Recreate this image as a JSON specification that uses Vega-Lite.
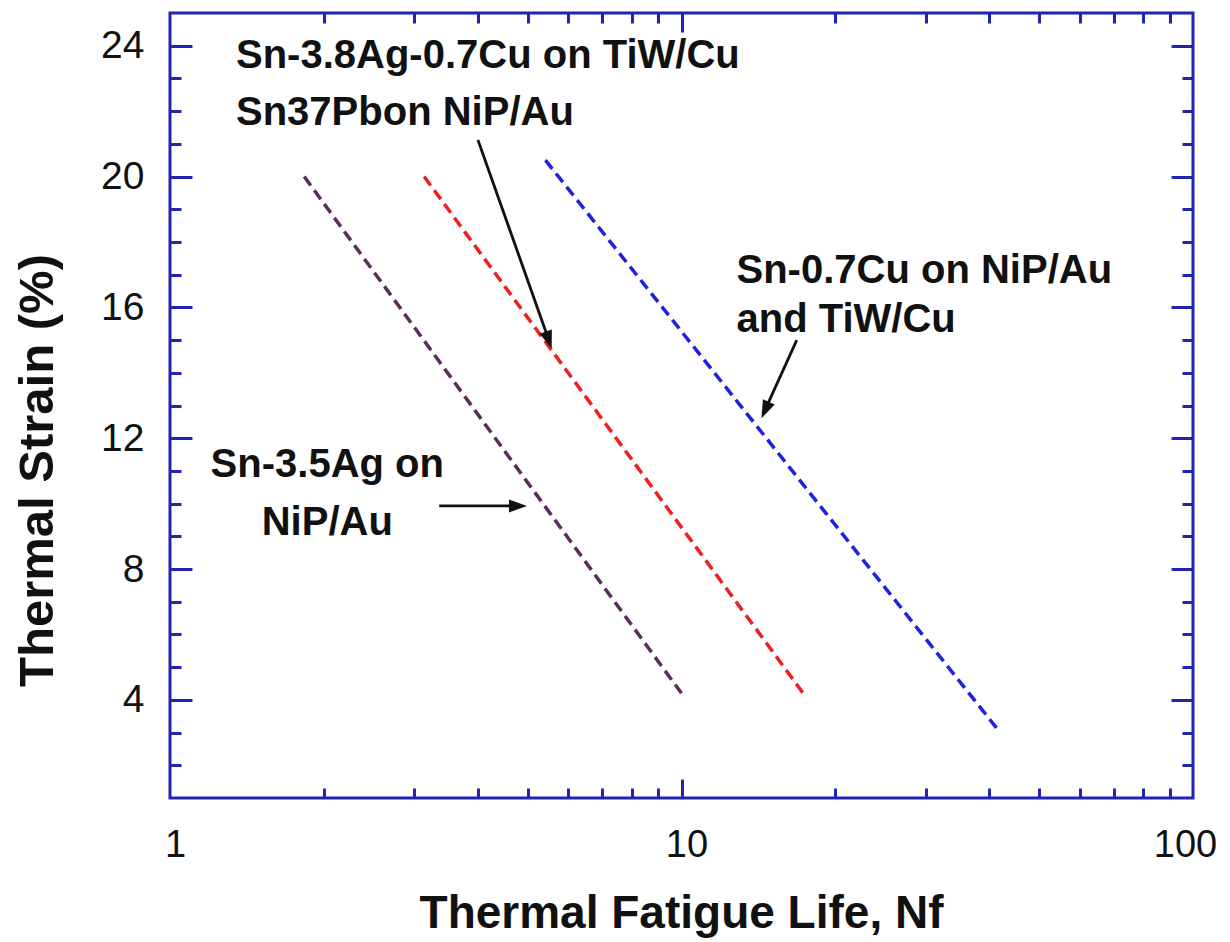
{
  "$schema": "https://vega.github.io/schema/vega-lite/v6.json",
  "width": 1023,
  "height": 785,
  "autosize": {"type": "none"},
  "padding": {"left": 170, "top": 13, "right": 37, "bottom": 144},
  "background": "white",
  "config": {
    "view": {"stroke": "#2424b4", "strokeWidth": 3},
    "axis": {"grid": false, "domain": false, "tickColor": "#2424b4", "tickWidth": 3, "labelFont": "Liberation Sans", "titleFont": "Liberation Sans", "labelColor": "#111111", "titleColor": "#111111"}
  },
  "datasets": {
    "curves": [
      {"series": "Sn-3.5Ag", "x": 1.83, "y": 20.0},
      {"series": "Sn-3.5Ag", "x": 10.0, "y": 4.2},
      {"series": "Sn37Pb", "x": 3.14, "y": 20.0},
      {"series": "Sn37Pb", "x": 17.3, "y": 4.2},
      {"series": "Sn-0.7Cu", "x": 5.42, "y": 20.5},
      {"series": "Sn-0.7Cu", "x": 41.5, "y": 3.1}
    ],
    "shafts": [
      {"x": 3.36, "y": 9.93, "x2": 4.75, "y2": 9.93},
      {"x": 4.0, "y": 21.12, "x2": 5.48, "y2": 15.08},
      {"x": 16.8, "y": 15.0, "x2": 14.62, "y2": 12.92}
    ],
    "heads": [
      {"x": 4.79, "y": 9.93, "angle": 90},
      {"x": 5.5, "y": 15.0, "angle": 160.7},
      {"x": 14.57, "y": 12.86, "angle": 204.2}
    ],
    "labelsLeft": [
      {"x": 1.346, "y": 23.32, "label": "Sn-3.8Ag-0.7Cu on TiW/Cu"},
      {"x": 1.346, "y": 21.58, "label": "Sn37Pbon NiP/Au"},
      {"x": 12.81, "y": 16.75, "label": "Sn-0.7Cu on NiP/Au"},
      {"x": 12.81, "y": 15.25, "label": "and TiW/Cu"}
    ],
    "labelsCenter": [
      {"x": 2.03, "y": 10.81, "label": "Sn-3.5Ag on"},
      {"x": 2.03, "y": 9.04, "label": "NiP/Au"}
    ]
  },
  "layer": [
    {
      "data": {"name": "curves"},
      "mark": {"type": "line", "strokeWidth": 3.5, "strokeDash": [11, 6]},
      "encoding": {
        "x": {"field": "x", "type": "quantitative", "scale": {"type": "log", "domain": [1, 100], "nice": false},
          "axis": {"orient": "bottom", "values": [1, 10, 100], "format": "d", "ticks": false, "tickSize": 0, "labelPadding": 28, "labelFontSize": 38, "labelOffset": {"condition": {"test": "datum.value == 100", "value": -8}, "value": 5}, "labelFlush": false,
            "title": "Thermal Fatigue Life, Nf", "titleFontSize": 46, "titleFontWeight": "bold", "titleX": 511, "titleY": 129, "titleBaseline": "alphabetic", "titleAlign": "center"}},
        "y": {"field": "y", "type": "quantitative", "scale": {"domain": [1, 25], "nice": false, "zero": false},
          "axis": {"orient": "left", "values": [4, 8, 12, 16, 20, 24], "ticks": false, "tickSize": 0, "labelPadding": 26, "labelFontSize": 39,
            "title": "Thermal Strain (%)", "titleFontSize": 49, "titleFontWeight": "bold", "titleAngle": -90, "titleX": -133, "titleY": 457, "titleBaseline": "middle", "titleAlign": "center"}},
        "color": {"field": "series", "type": "nominal", "scale": {"domain": ["Sn-3.5Ag", "Sn37Pb", "Sn-0.7Cu"], "range": ["#5b2d5b", "#f01e1e", "#2020e0"]}, "legend": null},
        "detail": {"field": "series"}
      }
    },
    {
      "data": {"name": "shafts"},
      "mark": {"type": "rule", "color": "#111111", "strokeWidth": 2.8},
      "encoding": {
        "x": {"field": "x", "type": "quantitative", "scale": {"type": "log", "domain": [1, 100], "nice": false},
          "axis": {"orient": "bottom", "values": [10], "labels": false, "tickSize": -19, "title": null}},
        "y": {"field": "y", "type": "quantitative", "scale": {"domain": [1, 25], "nice": false, "zero": false},
          "axis": {"orient": "left", "values": [4, 8, 12, 16, 20, 24], "labels": false, "tickSize": -22, "title": null}},
        "x2": {"field": "x2"},
        "y2": {"field": "y2"}
      }
    },
    {
      "data": {"name": "heads"},
      "mark": {"type": "point", "shape": "M0,-1L0.72,1L-0.72,1Z", "filled": true, "color": "#111111", "opacity": 1, "size": 324},
      "encoding": {
        "x": {"field": "x", "type": "quantitative", "scale": {"type": "log", "domain": [1, 100], "nice": false},
          "axis": {"orient": "bottom", "values": [2, 3, 4, 5, 6, 7, 8, 9, 20, 30, 40, 50, 60, 70, 80, 90], "labels": false, "tickSize": -10, "title": null}},
        "y": {"field": "y", "type": "quantitative", "scale": {"domain": [1, 25], "nice": false, "zero": false},
          "axis": {"orient": "left", "values": [2, 3, 5, 6, 7, 9, 10, 11, 13, 14, 15, 17, 18, 19, 21, 22, 23], "labels": false, "tickSize": -11, "title": null}},
        "angle": {"field": "angle", "type": "quantitative", "scale": null}
      }
    },
    {
      "data": {"name": "labelsLeft"},
      "mark": {"type": "text", "font": "Liberation Sans", "fontWeight": "bold", "fontSize": 40, "align": "left", "baseline": "alphabetic", "color": "#111111"},
      "encoding": {
        "x": {"field": "x", "type": "quantitative", "scale": {"type": "log", "domain": [1, 100], "nice": false},
          "axis": {"orient": "top", "values": [10], "labels": false, "tickSize": -19, "title": null}},
        "y": {"field": "y", "type": "quantitative", "scale": {"domain": [1, 25], "nice": false, "zero": false},
          "axis": {"orient": "right", "values": [4, 8, 12, 16, 20, 24], "labels": false, "tickSize": -22, "title": null}},
        "text": {"field": "label"}
      }
    },
    {
      "data": {"name": "labelsCenter"},
      "mark": {"type": "text", "font": "Liberation Sans", "fontWeight": "bold", "fontSize": 40, "align": "center", "baseline": "alphabetic", "color": "#111111"},
      "encoding": {
        "x": {"field": "x", "type": "quantitative", "scale": {"type": "log", "domain": [1, 100], "nice": false},
          "axis": {"orient": "top", "values": [2, 3, 4, 5, 6, 7, 8, 9, 20, 30, 40, 50, 60, 70, 80, 90], "labels": false, "tickSize": -10, "title": null}},
        "y": {"field": "y", "type": "quantitative", "scale": {"domain": [1, 25], "nice": false, "zero": false},
          "axis": {"orient": "right", "values": [2, 3, 5, 6, 7, 9, 10, 11, 13, 14, 15, 17, 18, 19, 21, 22, 23], "labels": false, "tickSize": -11, "title": null}},
        "text": {"field": "label"}
      }
    }
  ],
  "resolve": {"axis": {"x": "independent", "y": "independent"}}
}
